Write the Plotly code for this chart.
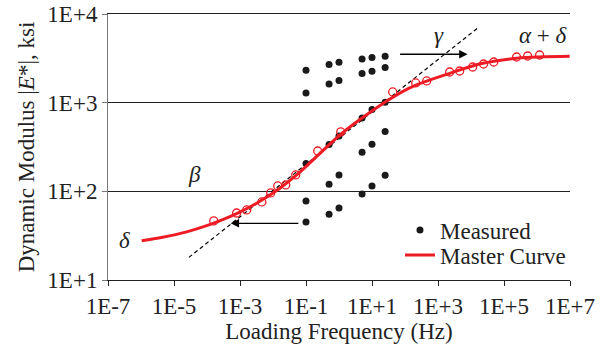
import plotly.graph_objects as go
import numpy as np

# ---- data ----
measured_freq = [0.1, 0.5, 1, 5, 10, 25]
measured_rows = [
    [2318, 2692, 2853, 3112, 3223, 3334],
    [1285, 1627, 1775, 2128, 2259, 2489],
    [206, 337, 422, 673, 835, 1009],
    [78, 120, 153, 276, 340, 472],
    [45.2, 55.2, 65, 93.5, 115, 152],
]

shifted_freq = [1.6e-4, 7.9e-4, 1.6e-3, 4.6e-3, 8.5e-3, 0.0139, 0.0243, 0.0488,
                0.226, 1.13, 42.4, 211, 454, 2260, 4540, 1.12e4, 2.4e4, 4.9e4,
                2.4e5, 5.2e5, 1.2e6]
shifted_modulus = [46.4, 57, 61.7, 75.9, 95.9, 115, 118, 153,
                   285, 468, 1321, 1668, 1757, 2218, 2276, 2525, 2730, 2876,
                   3275, 3360, 3450]

curve_freq = [1.05e-6, 4.55e-6, 2.43e-5, 9.8e-5, 2.99e-4, 7.9e-4, 3.2e-3, 0.0129,
              0.0522, 1.05, 5.22, 21.1, 139, 2260, 2.26e4, 2.42e5, 9.8e6]
curve_modulus = [27.7, 30.3, 34.9, 41.0, 48.0, 56.1, 73.5, 102,
                 153, 429, 680, 975, 1472, 2143, 2780, 3170, 3334]

tangent_freq = [2.83e-5, 1.62e4]
tangent_modulus = [18.0, 6980]

gamma_arrow_freq = [64, 7900]      # tail, head
gamma_arrow_modulus = 3515
delta_arrow_freq = [0.065, 5.2e-4]  # tail, head
delta_arrow_modulus = 43.6

x_tickvals = [1e-7, 1e-5, 1e-3, 1e-1, 1e1, 1e3, 1e5, 1e7]
x_ticktext = ["1E-7", "1E-5", "1E-3", "1E-1", "1E+1", "1E+3", "1E+5", "1E+7"]
y_tickvals = [10, 100, 1000, 10000]
y_ticktext = ["1E+1", "1E+2", "1E+3", "1E+4"]

RED = "#ED1C24"
FONT = "Liberation Serif, Times New Roman, serif"
FS = 23

fig = go.Figure()

# tangent dashed line
fig.add_trace(go.Scatter(x=tangent_freq, y=tangent_modulus, mode="lines",
                         line=dict(color="black", width=1.2, dash="4px,3px"),
                         showlegend=False, hoverinfo="skip"))

# measured points
mx, my = [], []
for row in measured_rows:
    mx.extend(measured_freq)
    my.extend(row)
fig.add_trace(go.Scatter(x=mx, y=my, mode="markers", name="Measured",
                         marker=dict(color="#1a1a1a", size=7), legend="legend"))

# shifted (open circles)
fig.add_trace(go.Scatter(x=shifted_freq, y=shifted_modulus, mode="markers",
                         marker=dict(symbol="circle-open", color=RED, size=8,
                                     line=dict(width=1.3, color=RED)),
                         showlegend=False))

# master curve
fig.add_trace(go.Scatter(x=curve_freq, y=curve_modulus, mode="lines",
                         name="Master Curve", line=dict(color=RED, width=3, shape="spline", smoothing=1.0),
                         legend="legend2"))

lg = np.log10
annotations = [
    dict(x=lg(gamma_arrow_freq[1]), y=lg(gamma_arrow_modulus),
         ax=lg(gamma_arrow_freq[0]), ay=lg(gamma_arrow_modulus),
         xref="x", yref="y", axref="x", ayref="y", text="", showarrow=True,
         arrowhead=2, arrowsize=1.3, arrowwidth=1.3, arrowcolor="black"),
    dict(x=lg(delta_arrow_freq[1]), y=lg(delta_arrow_modulus),
         ax=lg(delta_arrow_freq[0]), ay=lg(delta_arrow_modulus),
         xref="x", yref="y", axref="x", ayref="y", text="", showarrow=True,
         arrowhead=2, arrowsize=1.3, arrowwidth=1.3, arrowcolor="black"),
    dict(x=lg(1.1e3), y=lg(5750), xref="x", yref="y", text="<i>γ</i>", showarrow=False,
         font=dict(family=FONT, size=FS, color="#222")),
    dict(x=lg(1.5e6), y=lg(5750), xref="x", yref="y", text="<i>α</i> + <i>δ</i>", showarrow=False,
         font=dict(family=FONT, size=FS, color="#222")),
    dict(x=lg(4.3e-5), y=lg(156), xref="x", yref="y", text="<i>β</i>", showarrow=False,
         font=dict(family=FONT, size=FS, color="#222")),
    dict(x=lg(3.2e-7), y=lg(28.1), xref="x", yref="y", text="<i>δ</i>", showarrow=False,
         font=dict(family=FONT, size=FS, color="#222")),
]

fig.update_layout(
    width=607, height=350,
    margin=dict(l=108, r=37, t=14, b=70, autoexpand=False),
    paper_bgcolor="white", plot_bgcolor="white",
    font=dict(family=FONT, size=FS, color="#222"),
    annotations=annotations,
    legend=dict(x=0.632, y=0.188, xanchor="left", yanchor="middle",
                bgcolor="rgba(0,0,0,0)", font=dict(family=FONT, size=FS)),
    legend2=dict(x=0.632, y=0.094, xanchor="left", yanchor="middle",
                 bgcolor="rgba(0,0,0,0)", font=dict(family=FONT, size=FS)),
)

fig.update_xaxes(type="log", range=[-7, 7], tickvals=x_tickvals, ticktext=x_ticktext,
                 showgrid=False, zeroline=False, showline=True, linecolor="#222", linewidth=1,
                 mirror=True, automargin=False,
                 ticks="outside", ticklen=5, tickcolor="#222",
                 title=dict(text="Loading Frequency (Hz)", font=dict(family=FONT, size=FS), standoff=4),
                 tickfont=dict(family=FONT, size=FS))
fig.update_yaxes(type="log", range=[1, 4], tickvals=y_tickvals, ticktext=y_ticktext,
                 showgrid=True, gridcolor="#222", gridwidth=1, zeroline=False,
                 showline=True, linecolor="#777", linewidth=1, automargin=False,
                 ticks="outside", ticklen=5, tickcolor="#777",
                 title=dict(text="Dynamic Modulus |<i>E</i>*|, ksi", font=dict(family=FONT, size=FS), standoff=6),
                 tickfont=dict(family=FONT, size=FS))

fig.write_html("out.html")
